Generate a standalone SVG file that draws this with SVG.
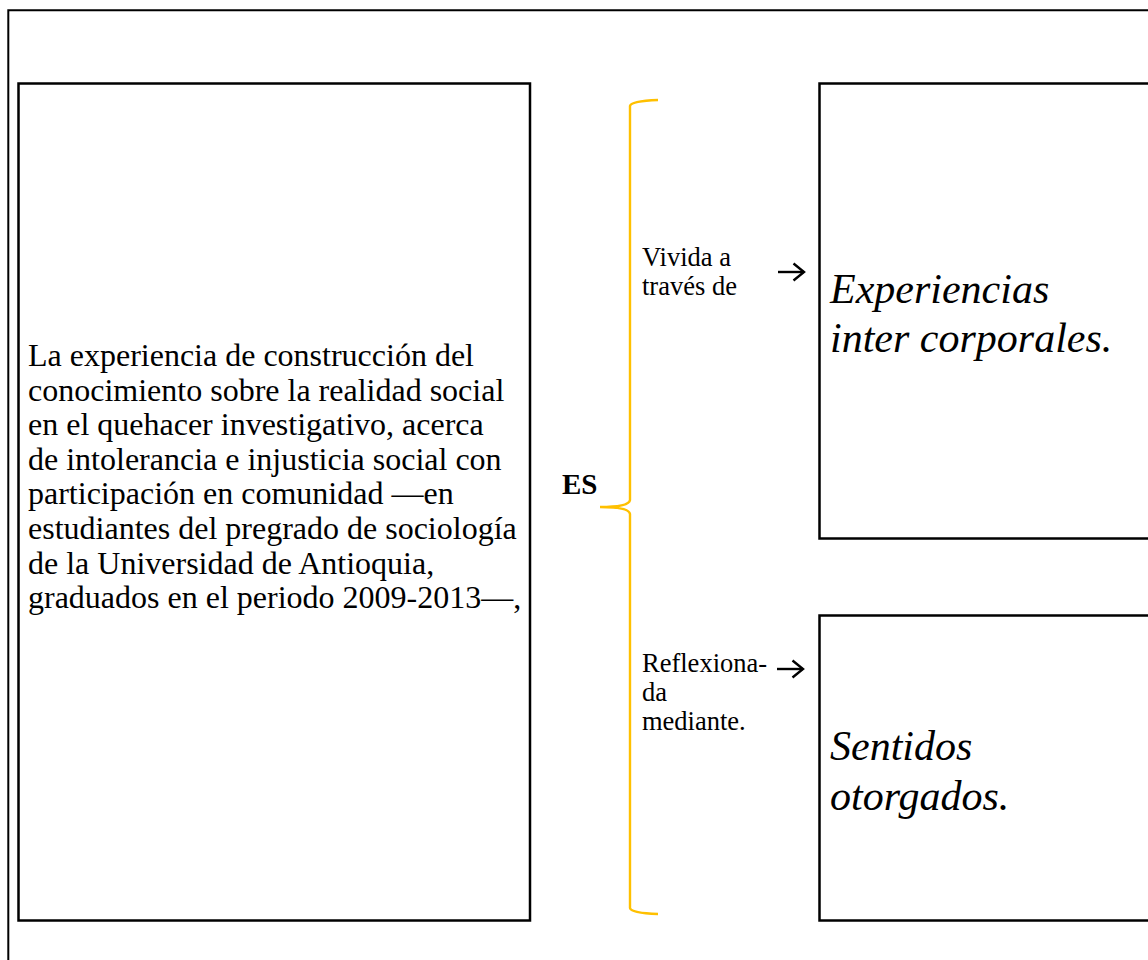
<svg xmlns="http://www.w3.org/2000/svg" width="1148" height="960" viewBox="0 0 1148 960">
<defs>
<marker id="chev" markerWidth="14" markerHeight="20" refX="12" refY="10" orient="auto" markerUnits="userSpaceOnUse">
<path d="M1.5,1.5 L12,10 L1.5,18.5" fill="none" stroke="#000" stroke-width="2.4"/>
</marker>
</defs>
<style>
.box{fill:#fff;stroke:#000;stroke-width:2.5}
.main{font-family:"Liberation Serif","Times New Roman",serif;font-size:32px;fill:#000}
.lab{font-family:"Liberation Serif","Times New Roman",serif;font-size:26.5px;fill:#000}
.big{font-family:"Liberation Serif","Times New Roman",serif;font-size:42px;font-style:italic;fill:#000}
.es{font-family:"Liberation Serif","Times New Roman",serif;font-size:29px;font-weight:bold;fill:#000}
.conn{fill:none;stroke:#000;stroke-width:2.4}
</style>
<rect width="1148" height="960" fill="#fff"/>
<g id="frame">
<path d="M8.3,960 L8.3,10.3 L1148,10.3" fill="none" stroke="#000" stroke-width="2"/>
</g>
<g id="node-main">
<rect class="box" x="18.5" y="83.5" width="511.5" height="837"/>
<text class="main">
<tspan x="28" y="366">La experiencia de construcción del</tspan>
<tspan x="28" y="400.6">conocimiento sobre la realidad social</tspan>
<tspan x="28" y="435.2">en el quehacer investigativo, acerca</tspan>
<tspan x="28" y="469.8">de intolerancia e injusticia social con</tspan>
<tspan x="28" y="504.4">participación en comunidad —en</tspan>
<tspan x="28" y="539">estudiantes del pregrado de sociología</tspan>
<tspan x="28" y="573.6">de la Universidad de Antioquia,</tspan>
<tspan x="28" y="608.2">graduados en el periodo 2009-2013—,</tspan>
</text>
</g>
<g id="node-es">
<text class="es" x="562" y="494">ES</text>
</g>
<g id="brace">
<path d="M658,100 Q631,101 630,106 L630,500 Q629,507 600,507 Q629,507 630,514 L630,908 Q631,913 658,914" fill="none" stroke="#FFC000" stroke-width="2.4"/>
</g>
<g id="label-vivida">
<text class="lab"><tspan x="642" y="266">Vivida a</tspan><tspan x="642" y="295">través de</tspan></text>
</g>
<g id="label-reflexionada">
<text class="lab"><tspan x="642" y="672">Reflexiona-</tspan><tspan x="642" y="701">da</tspan><tspan x="642" y="730">mediante.</tspan></text>
</g>
<g id="node-experiencias">
<rect class="box" x="819.5" y="83.5" width="340" height="455"/>
<text class="big"><tspan x="830" y="303">Experiencias</tspan><tspan x="830" y="352">inter corporales.</tspan></text>
</g>
<g id="node-sentidos">
<rect class="box" x="819.5" y="615.5" width="340" height="305"/>
<text class="big"><tspan x="830" y="760">Sentidos</tspan><tspan x="830" y="810">otorgados.</tspan></text>
</g>
<g id="connectors">
<path class="conn" d="M778,272 L804,272" marker-end="url(#chev)"/>
<path class="conn" d="M777,669 L803,669" marker-end="url(#chev)"/>
</g>
</svg>
